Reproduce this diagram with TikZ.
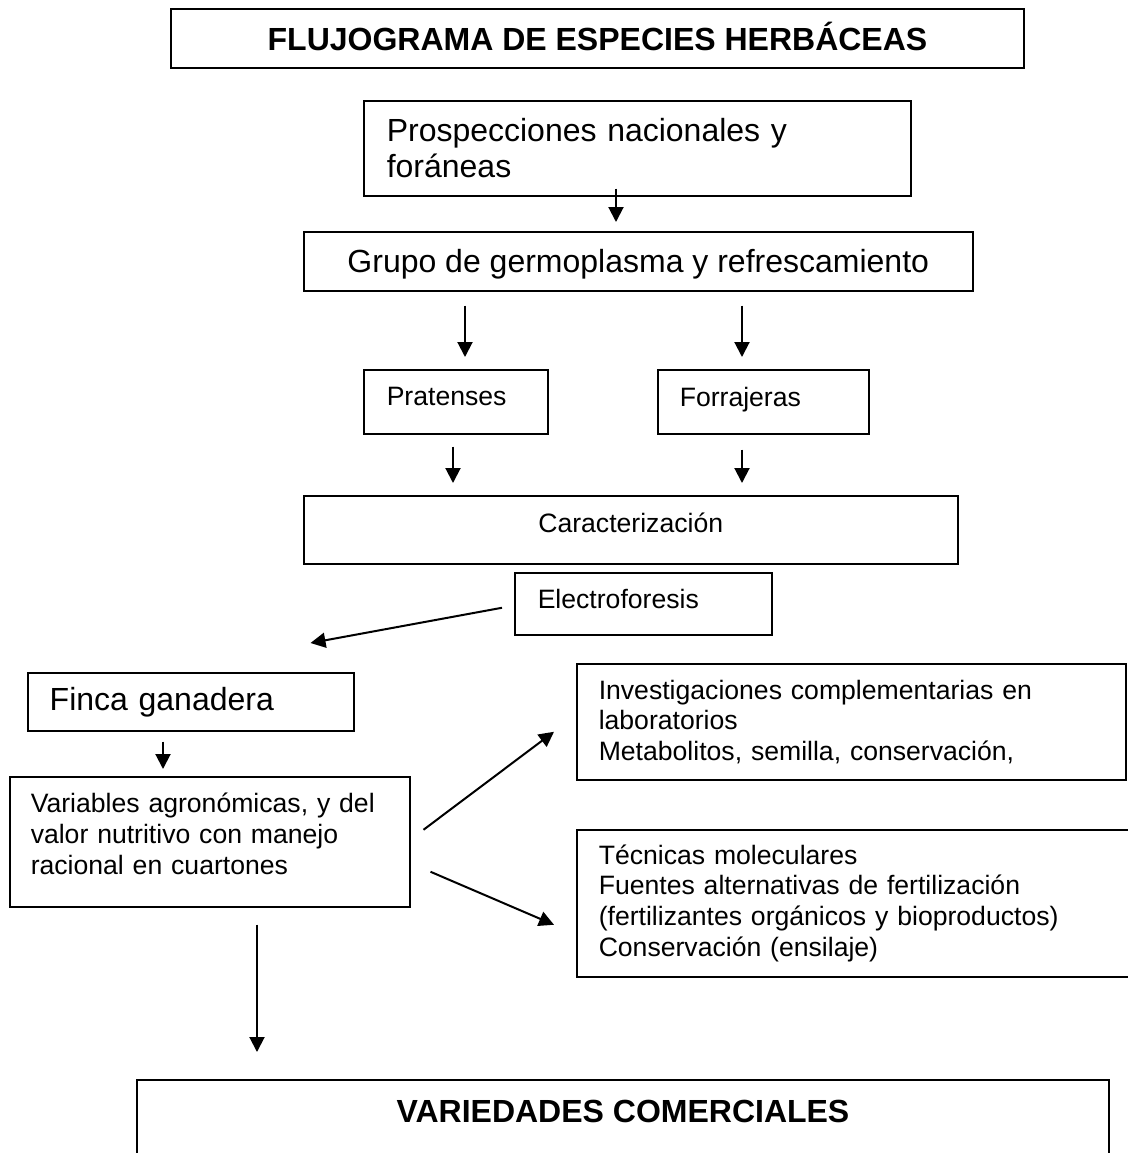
\documentclass[tikz,border=0pt]{standalone}
\usepackage{fontspec}
\setmainfont{Liberation Sans}
\usetikzlibrary{arrows.meta}
\newcommand{\bigtxt}{\fontsize{16}{18}\selectfont}
\newcommand{\medtxt}{\fontsize{13.3}{15.3}\selectfont}
\begin{document}
\begin{tikzpicture}[x=0.5pt, y=-0.5pt,
    box/.style={draw, line width=0.75pt, anchor=north west, inner ysep=2pt, font=\medtxt},
    lbox/.style={box, align=left},
    arr/.style={line width=1pt, -{Triangle[width=7.5pt, length=7.5pt]}}]
  \useasboundingbox (0,0) rectangle (1128,1153);
  \node[box, line width=1pt, font=\bigtxt\bfseries, minimum width=426.5pt, minimum height=29.5pt,
    text height=11.5pt, text depth=0pt] (title) at (170,8) {FLUJOGRAMA DE ESPECIES HERBÁCEAS};
  \node[lbox, font=\bigtxt, inner xsep=11.5pt, text width=250.5pt, minimum height=47.5pt] (pros) at (363,100)
    {Prospecciones nacionales y\\foráneas};
  \node[box, font=\bigtxt, minimum width=334.5pt, minimum height=29.5pt, text depth=0pt] (grupo) at (303,231)
    {Grupo de germoplasma y refrescamiento};
  \node[lbox, inner xsep=11.5pt, text width=69pt, minimum height=32pt, text depth=5pt] (prat) at (363,369) {Pratenses};
  \node[lbox, inner xsep=11pt, text width=83.5pt, minimum height=32pt, text depth=5pt] (forr) at (657,369) {Forrajeras};
  \node[box, minimum width=327pt, minimum height=34pt, text depth=7pt] (carac) at (303,495) {Caracterización};
  \node[lbox, inner xsep=11.5pt, text width=105.5pt, minimum height=31pt, text depth=5pt] (elec) at (514,572) {Electroforesis};
  \node[lbox, font=\bigtxt, inner xsep=11pt, text width=141pt, minimum height=29pt] (finca) at (27,672) {Finca ganadera};
  \node[lbox, inner xsep=10.5pt, text width=179pt, minimum height=65pt, text depth=38.6pt] (vari) at (9,776)
    {Variables agronómicas, y del\\valor nutritivo con manejo\\racional en cuartones};
  \node[lbox, inner xsep=11pt, text width=252.5pt, minimum height=58pt] (inv) at (576,663)
    {Investigaciones complementarias en\\laboratorios\\Metabolitos, semilla, conservación,};
  \node[lbox, inner xsep=11pt, text width=260pt, minimum height=73.5pt] (tec) at (576,829)
    {Técnicas moleculares\\Fuentes alternativas de fertilización\\(fertilizantes orgánicos y bioproductos)\\Conservación (ensilaje)};
  \node[box, line width=1pt, font=\bigtxt\bfseries, minimum width=486pt, minimum height=50pt,
    text height=11.5pt, text depth=19.5pt] (vared) at (136,1079) {VARIEDADES COMERCIALES};
  \draw[arr, shorten <=-4pt, shorten >=4.5pt] (616,0 |- pros.south) -- (616,0 |- grupo.north);
  \draw[arr, shorten <=7pt, shorten >=6pt] (465,0 |- grupo.south) -- (465,0 |- prat.north);
  \draw[arr, shorten <=7pt, shorten >=6pt] (742,0 |- grupo.south) -- (742,0 |- forr.north);
  \draw[arr, shorten <=6pt, shorten >=6pt] (453,0 |- prat.south) -- (453,0 |- carac.north);
  \draw[arr, shorten <=7.5pt, shorten >=6pt] (742,0 |- forr.south) -- (742,0 |- carac.north);
  \draw[arr] ([xshift=-6pt, yshift=-2pt]elec.west) -- ([xshift=-22pt, yshift=14.5pt]finca.north east);
  \draw[arr, shorten <=5pt, shorten >=3.5pt] (163,0 |- finca.south) -- (163,0 |- vari.north);
  \draw[arr] ([xshift=6.5pt, yshift=6pt]vari.east) -- ([xshift=-11pt, yshift=-5pt]inv.west);
  \draw[arr] ([xshift=10pt, yshift=-15pt]vari.east) -- ([xshift=-11pt, yshift=-10.75pt]tec.west);
  \draw[arr, shorten <=8.5pt, shorten >=13.5pt] (257,0 |- vari.south) -- (257,0 |- vared.north);
\end{tikzpicture}
\end{document}
